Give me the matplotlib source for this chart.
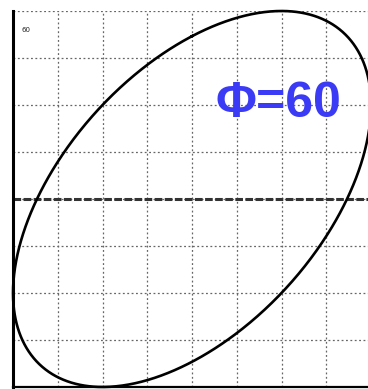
import numpy as np
import matplotlib
matplotlib.use("Agg")
import matplotlib.pyplot as plt

# Lissajous figure: x = sin(t), y = sin(t + phi)
phase_deg = 60
amplitude_x = 1.0
amplitude_y = 1.0
grid_ticks = [-1.0, -0.75, -0.5, -0.25, 0.0, 0.25, 0.5, 0.75, 1.0]
label_text = "Φ=60"
corner_text = "60"

t = np.linspace(0, 2 * np.pi, 1000)
x = amplitude_x * np.sin(t)
y = amplitude_y * np.sin(t + np.deg2rad(phase_deg))

W, H = 368, 389
fig = plt.figure(figsize=(W / 100, H / 100), dpi=100)
left, right, top, bottom = 13, 371, 11, 387
ax = fig.add_axes([left / W, (H - bottom) / H, (right - left) / W, (bottom - top) / H])

ax.set_xlim(-1, 1)
ax.set_ylim(-1, 1)
ax.set_xticks(grid_ticks)
ax.set_yticks(grid_ticks)
ax.tick_params(length=0, labelbottom=False, labelleft=False)
ax.grid(True, linestyle=(0, (1.5, 2)), color="#666666", linewidth=0.9)

for side in ("top", "right"):
    ax.spines[side].set_visible(False)
ax.spines["left"].set_linewidth(2.2)
ax.spines["bottom"].set_linewidth(1.6)

# horizontal zero line
ax.axhline(0, color="#333333", linewidth=2.2, linestyle=(0, (2.5, 0.8)))

ax.plot(x, y, color="black", linewidth=1.9, clip_on=False)

ax.text(0.025, 0.95, corner_text, transform=ax.transAxes, fontsize=5,
        ha="left", va="center", color="#222222")
ax.text(0.742, 0.752, label_text, transform=ax.transAxes, fontsize=36,
        fontweight="bold", color="#3b3bf5", ha="center", va="center",
        family="Liberation Sans")

fig.savefig("out.png", dpi=100)
